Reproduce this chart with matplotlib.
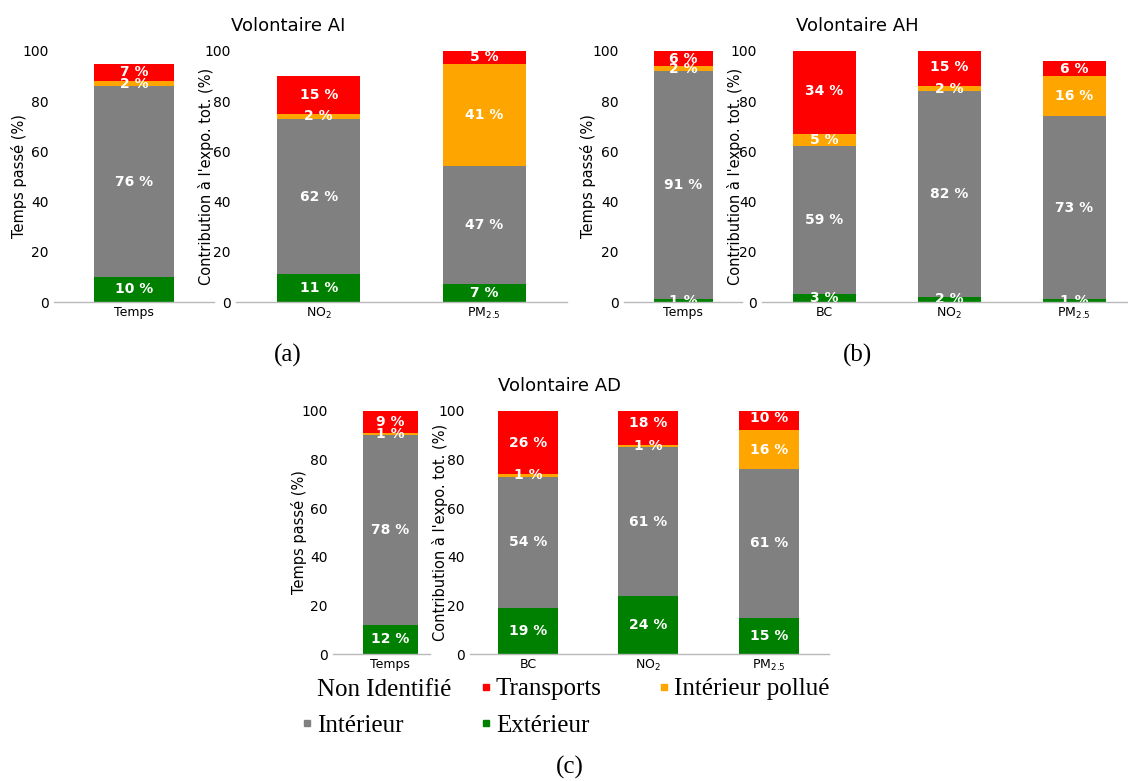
import matplotlib
matplotlib.use("Agg")
import matplotlib.pyplot as plt
from matplotlib.lines import Line2D
import matplotlib.transforms as mtransforms

W, H = 1128, 781

# ---------------- data ----------------
series_names = ["Extérieur", "Intérieur", "Intérieur pollué", "Transports"]
series_colors = ["#008000", "#808080", "#ffa500", "#ff0000"]

time_cats = ["Temps"]
expo_cats_ai = ["NO$_2$", "PM$_{2.5}$"]
expo_cats = ["BC", "NO$_2$", "PM$_{2.5}$"]

# Volontaire AI
ai_time_ext = [10]
ai_time_int = [76]
ai_time_intpol = [2]
ai_time_trans = [7]
ai_expo_ext = [11, 7]
ai_expo_int = [62, 47]
ai_expo_intpol = [2, 41]
ai_expo_trans = [15, 5]

# Volontaire AH
ah_time_ext = [1]
ah_time_int = [91]
ah_time_intpol = [2]
ah_time_trans = [6]
ah_expo_ext = [3, 2, 1]
ah_expo_int = [59, 82, 73]
ah_expo_intpol = [5, 2, 16]
ah_expo_trans = [34, 15, 6]

# Volontaire AD
ad_time_ext = [12]
ad_time_int = [78]
ad_time_intpol = [1]
ad_time_trans = [9]
ad_expo_ext = [19, 24, 15]
ad_expo_int = [54, 61, 61]
ad_expo_intpol = [1, 1, 16]
ad_expo_trans = [26, 18, 10]

yticks = [0, 20, 40, 60, 80, 100]

# ---------------- layout ----------------
fig = plt.figure(figsize=(W / 100, H / 100), dpi=100)


def add_axes_px(x0, x1, ybot, ytop):
    return fig.add_axes([x0 / W, 1 - ybot / H, (x1 - x0) / W, (ybot - ytop) / H])


def draw(ax, cats, segs, xlim, ylabel, label_right_px):
    x = list(range(len(cats)))
    bottom = [0] * len(cats)
    for vals, color, name in zip(segs, series_colors, series_names):
        ax.bar(x, vals, width=0.5, bottom=bottom, color=color, label=name)
        for xi, v, b in zip(x, vals, bottom):
            ax.text(xi, b + v / 2, f"{v} %", ha="center", va="center",
                    color="white", fontweight="bold", fontsize=10, clip_on=True)
        bottom = [b + v for b, v in zip(bottom, vals)]
    ax.set_xlim(*xlim)
    ax.set_ylim(0, 100)
    ax.set_yticks(yticks)
    ax.set_xticks(x)
    ax.set_xticklabels(cats)
    for s in ["top", "right", "left"]:
        ax.spines[s].set_visible(False)
    ax.spines["bottom"].set_color("#b8b8b8")
    ax.spines["bottom"].set_linewidth(1.0)
    ax.tick_params(axis="both", length=0)
    ax.tick_params(axis="y", labelsize=10, pad=4)
    ax.tick_params(axis="x", labelsize=9, pad=3)
    ax.set_facecolor("none")
    ax.set_ylabel(ylabel, fontsize=10.5)
    tr = mtransforms.blended_transform_factory(fig.transFigure, ax.transAxes)
    ax.yaxis.set_label_coords(label_right_px / W, 0.5, transform=tr)


# (a) Volontaire AI
ax = add_axes_px(54, 214, 302, 51)
draw(ax, time_cats, [ai_time_ext, ai_time_int, ai_time_intpol, ai_time_trans],
     (-0.5, 0.5), "Temps passé (%)", 27)
ax = add_axes_px(236, 567, 302, 51)
draw(ax, expo_cats_ai, [ai_expo_ext, ai_expo_int, ai_expo_intpol, ai_expo_trans],
     (-0.5, 1.5), "Contribution à l'expo. tot. (%)", 214)

# (b) Volontaire AH
ax = add_axes_px(624, 742, 302, 51)
draw(ax, time_cats, [ah_time_ext, ah_time_int, ah_time_intpol, ah_time_trans],
     (-0.5, 0.5), "Temps passé (%)", 596)
ax = add_axes_px(762, 1128, 302, 51)
draw(ax, expo_cats, [ah_expo_ext, ah_expo_int, ah_expo_intpol, ah_expo_trans],
     (-0.5, 2.43), "Contribution à l'expo. tot. (%)", 743)

# (c) Volontaire AD
ax = add_axes_px(333, 430, 654, 411)
draw(ax, time_cats, [ad_time_ext, ad_time_int, ad_time_intpol, ad_time_trans],
     (-0.52, 0.36), "Temps passé (%)", 307)
ax = add_axes_px(470, 829, 654, 411)
draw(ax, expo_cats, [ad_expo_ext, ad_expo_int, ad_expo_intpol, ad_expo_trans],
     (-0.48, 2.5), "Contribution à l'expo. tot. (%)", 448)

# titles
for txt, xp, yp in [("Volontaire AI", 288, 26), ("Volontaire AH", 857, 26),
                    ("Volontaire AD", 560, 386)]:
    fig.text(xp / W, 1 - yp / H, txt, ha="center", va="center", fontsize=13)

# subfigure labels
for txt, xp, yp in [("(a)", 288, 355), ("(b)", 858, 355), ("(c)", 570, 767)]:
    fig.text(xp / W, 1 - yp / H, txt, ha="center", va="center", fontsize=18,
             family="Liberation Serif")


# legend (three columns)
def handle(color):
    return Line2D([], [], ls="", marker="s", markersize=4, color=color)


leg_kw = dict(frameon=False, prop={"family": "Liberation Serif", "size": 18},
              handlelength=0.4, handletextpad=0.2, borderpad=0, borderaxespad=0,
              labelspacing=0.55, loc="upper left")
top = 1 - 678 / H
col1 = fig.legend([handle("white"), handle(series_colors[1])],
                  ["Non Identifié", "Intérieur"],
                  bbox_to_anchor=(302 / W, top), **leg_kw)
col2 = fig.legend([handle(series_colors[3]), handle(series_colors[0])],
                  ["Transports", "Extérieur"],
                  bbox_to_anchor=(481 / W, top), **leg_kw)
col3 = fig.legend([handle(series_colors[2])],
                  ["Intérieur pollué"],
                  bbox_to_anchor=(659 / W, top), **leg_kw)

fig.savefig("out.png", dpi=100)
